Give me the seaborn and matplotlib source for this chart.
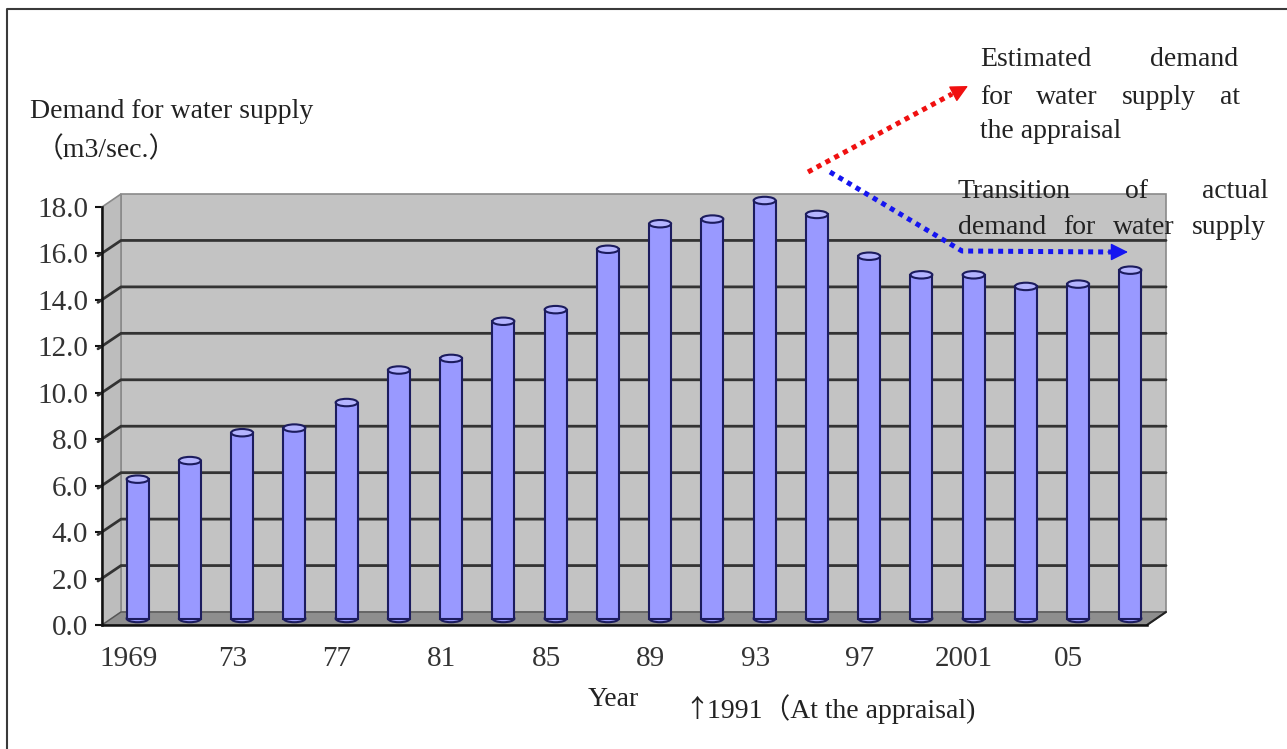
import numpy as np
import pandas as pd
import matplotlib
matplotlib.use("Agg")
import matplotlib.pyplot as plt
from matplotlib.patches import Polygon, Ellipse
from matplotlib.lines import Line2D
from matplotlib.transforms import ScaledTranslation, IdentityTransform
import seaborn as sns

# ---- data -------------------------------------------------------------
years = ["1969", "1971", "1973", "1975", "1977", "1979", "1981", "1983", "1985", "1987",
         "1989", "1991", "1993", "1995", "1997", "1999", "2001", "2003", "2005", "2007"]
demand = [6.0, 6.8, 8.0, 8.2, 9.3, 10.7, 11.2, 12.8, 13.3, 15.9,
          17.0, 17.2, 18.0, 17.4, 15.6, 14.8, 14.8, 14.3, 14.4, 15.0]
year_tick_labels = ["1969", "", "73", "", "77", "", "81", "", "85", "",
                    "89", "", "93", "", "97", "", "2001", "", "05", ""]
y_ticks = [0, 2, 4, 6, 8, 10, 12, 14, 16, 18]

# ---- style ------------------------------------------------------------
BAR = "#9999FF"
BAR_TOP = "#B4B4FF"
EDGE = "#1C1C5E"
WALL = "#C3C3C3"
SIDE = "#BDBDBD"
FLOOR = "#8E8E8E"
GRID = "#333333"
DEPTH = np.array([19.0, 13.0])   # pixel offset from front plane to back wall

sns.set_theme(style="white")
plt.rcParams["font.family"] = ["Liberation Serif", "Noto Sans CJK JP"]
plt.rcParams["text.color"] = "#222222"

W, H = 1287, 749
fig = plt.figure(figsize=(W / 100, H / 100), dpi=100)
fig.patch.set_facecolor("white")
ax = fig.add_axes([102 / W, 1 - 625 / H, 1045 / W, 418 / H])
ax.set_facecolor("none")

df = pd.DataFrame({"year": years, "demand": demand})
sns.barplot(data=df, x="year", y="demand", order=years, color=BAR, saturation=1,
            width=0.42, edgecolor=EDGE, linewidth=1.5, ax=ax, zorder=5)
ax.set_xlim(-0.5, len(years) - 0.5)
ax.set_ylim(0, 18)

# bars sit halfway between the front plane and the back wall
mid_off = ScaledTranslation(DEPTH[0] / 2 / 100, DEPTH[1] / 2 / 100, fig.dpi_scale_trans)
bars = list(ax.patches)
for p in bars:
    p.set_transform(ax.transData + mid_off)
    cx = p.get_x() + p.get_width() / 2
    top = Ellipse((cx, p.get_height()), p.get_width(), 0.32, transform=ax.transData + mid_off,
                  facecolor=BAR_TOP, edgecolor=EDGE, linewidth=1.5, zorder=6, clip_on=False)
    bottom = Ellipse((cx, 0), p.get_width(), 0.32, transform=ax.transData + mid_off,
                     facecolor=BAR, edgecolor=EDGE, linewidth=1.5, zorder=4.9, clip_on=False)
    ax.add_patch(top)
    ax.add_patch(bottom)
    p.set_clip_on(False)


def px(x, y, depth):
    return ax.transData.transform((x, y)) + depth * DEPTH


x0, x1 = -0.5, len(years) - 0.5
ident = IdentityTransform()

back = Polygon([px(x0, 0, 1), px(x1, 0, 1), px(x1, 18, 1), px(x0, 18, 1)], closed=True,
               transform=ident, facecolor=WALL, edgecolor="#8a8a8a", linewidth=1.2, zorder=0.5,
               clip_on=False)
side = Polygon([px(x0, 0, 0), px(x0, 0, 1), px(x0, 18, 1), px(x0, 18, 0)], closed=True,
               transform=ident, facecolor=SIDE, edgecolor="#8a8a8a", linewidth=1.2, zorder=0.6,
               clip_on=False)
floor = Polygon([px(x0, 0, 0), px(x1, 0, 0), px(x1, 0, 1), px(x0, 0, 1)], closed=True,
                transform=ident, facecolor=FLOOR, edgecolor="#555555", linewidth=1.0, zorder=0.7,
                clip_on=False)
for poly in (back, side, floor):
    ax.add_patch(poly)

for v in y_ticks[1:-1]:
    a, b, c = px(x0, v, 0), px(x0, v, 1), px(x1, v, 1)
    ax.add_line(Line2D([a[0] - 4, b[0], c[0]], [a[1] - 2.5, b[1], c[1]], transform=ident,
                       color=GRID, linewidth=2.0, zorder=1, clip_on=False))

# front edges of the box
ax.spines[["top", "right"]].set_visible(False)
for s in ("left", "bottom"):
    ax.spines[s].set_color("#111111")
    ax.spines[s].set_linewidth(1.8)
    ax.spines[s].set_zorder(7)
rb, rf = px(x1, 0, 1), px(x1, 0, 0)
ax.add_line(Line2D([rf[0], rb[0]], [rf[1], rb[1]], transform=ident, color="#222222",
                   linewidth=1.5, zorder=7, clip_on=False))

ax.set_yticks(y_ticks, [f"{v:.1f}" for v in y_ticks])
ax.set_xticks(range(len(years)), year_tick_labels)
ax.set_xticks(np.arange(0.5, len(years) - 1, 1.0), minor=True)
ax.tick_params(axis="y", length=5, width=1.5, color="#111111", direction="out", pad=5,
               labelsize=21, labelcolor="#333333", left=True)
ax.tick_params(axis="x", which="major", length=0, pad=15, labelsize=21, labelcolor="#333333")
ax.tick_params(axis="x", which="minor", length=6, width=1.5, color="#111111", direction="in",
               bottom=True)
ax.set_xlabel("")
ax.set_ylabel("")

# ---- annotations ------------------------------------------------------
FS = 20
fig.text(30 / W, 1 - 112 / H, "Demand for water supply", ha="left", va="center", fontsize=FS)
fig.text(36 / W, 1 - 150 / H, "（m3/sec.）", ha="left", va="center", fontsize=FS)
fig.text(588 / W, 1 - 700 / H, "Year", ha="left", va="center", fontsize=FS)
fig.text(697 / W, 1 - 710 / H, "↑", ha="center", va="center", fontsize=FS - 2,
         family=["Noto Sans CJK JP"])
fig.text(707 / W, 1 - 709 / H, "1991（At the appraisal)", ha="left", va="center", fontsize=FS)

renderer = fig.canvas.get_renderer()


def justified(line, left, right, y, fs=FS):
    words = line.split()
    texts = [fig.text(0, 0, w, ha="left", va="center", fontsize=fs) for w in words]
    widths = [t.get_window_extent(renderer).width for t in texts]
    gap = (right - left - sum(widths)) / max(len(words) - 1, 1)
    x = left
    for t, w in zip(texts, widths):
        t.set_position((x / W, 1 - y / H))
        x += w + gap


justified("Estimated demand", 980, 1238, 60)
justified("for water supply at", 980, 1240, 97)
fig.text(980 / W, 1 - 131 / H, "the appraisal", ha="left", va="center", fontsize=FS)
justified("Transition of actual", 958, 1268, 192)
justified("demand for water supply", 958, 1266, 227)

dots = dict(linewidth=3.6, linestyle=(0, (1, 1)), dash_capstyle="butt", transform=ident,
            zorder=10)
fig.add_artist(Line2D([808, 952], [H - 172, H - 94], color="#F01010", **dots))
ax.annotate("", xy=(968, H - 86), xytext=(950, H - 95.5), xycoords="figure pixels",
            textcoords="figure pixels",
            arrowprops=dict(arrowstyle="-|>,head_length=0.9,head_width=0.45", color="#F01010",
                            lw=1.0, shrinkA=0, shrinkB=0), annotation_clip=False)
fig.add_artist(Line2D([830, 962, 1112], [H - 172, H - 251, H - 252], color="#1515F0", **dots))
ax.annotate("", xy=(1128, H - 252), xytext=(1108, H - 252), xycoords="figure pixels",
            textcoords="figure pixels",
            arrowprops=dict(arrowstyle="-|>,head_length=0.9,head_width=0.45", color="#1515F0",
                            lw=1.0, shrinkA=0, shrinkB=0), annotation_clip=False)

# page frame
fig.add_artist(Line2D([7, 7, W], [0, H - 9, H - 9], transform=ident, color="#3a3a3a",
                      linewidth=1.5, zorder=11))

fig.savefig("out.png", dpi=100, facecolor="white")
